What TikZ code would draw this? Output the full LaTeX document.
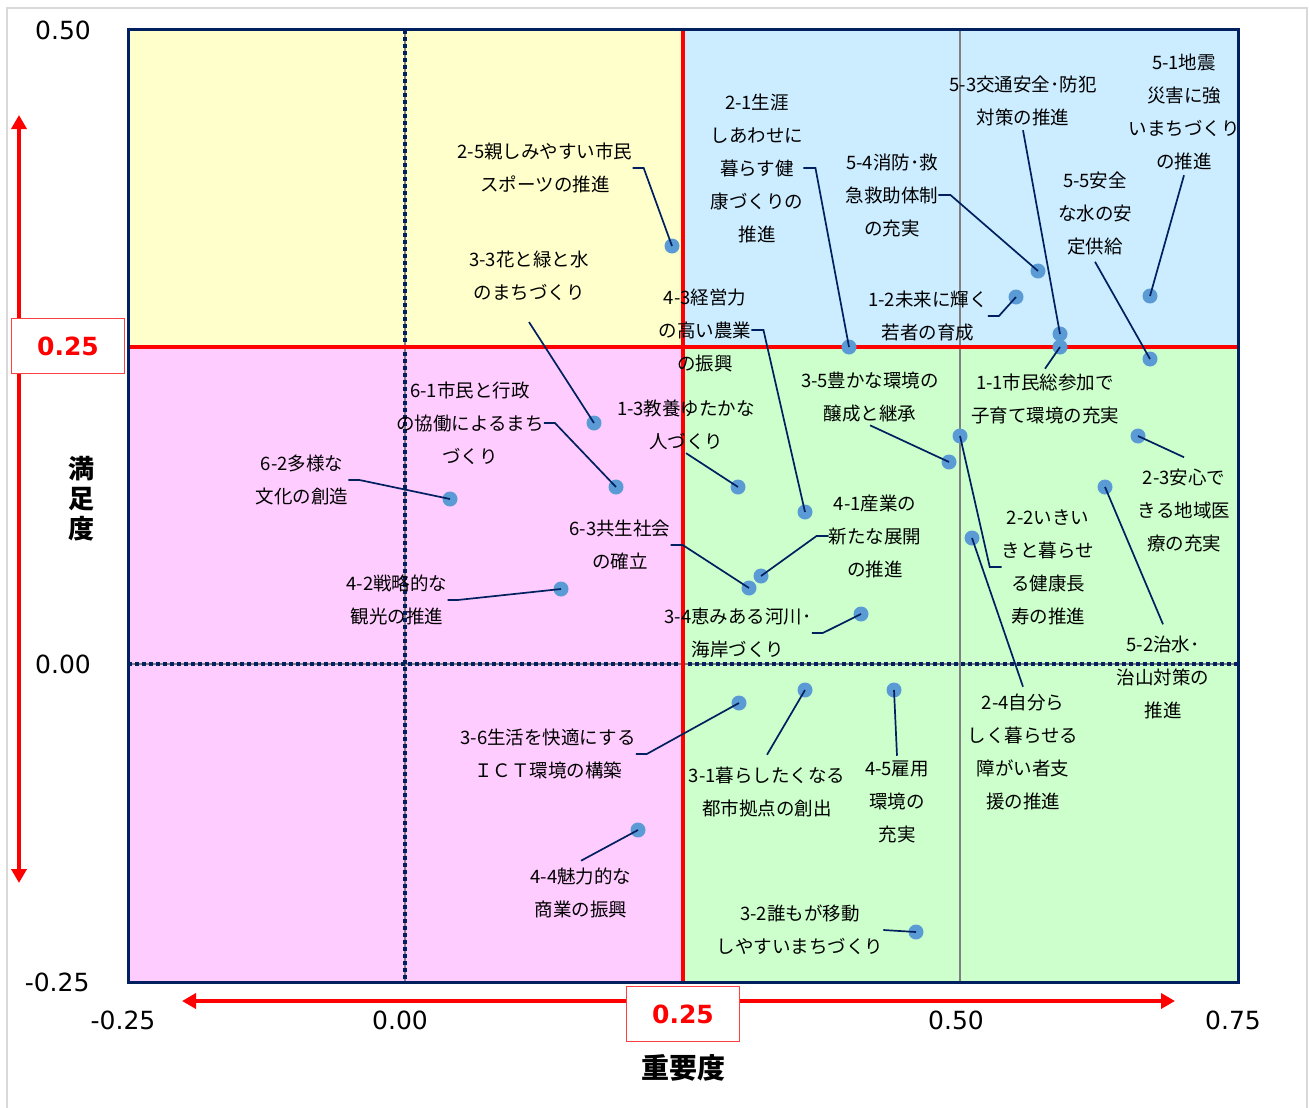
\documentclass[tikz,border=0pt]{standalone}
\usepackage{fontspec}
\setmainfont{Noto Sans CJK JP}
\newfontfamily\numfont{DejaVu Sans}
\usetikzlibrary{arrows.meta}
\definecolor{navy}{HTML}{002060}
\definecolor{dotblue}{HTML}{5B9BD5}
\definecolor{qyellow}{HTML}{FFFFCC}
\definecolor{qblue}{HTML}{CCECFF}
\definecolor{qpink}{HTML}{FFCCFF}
\definecolor{qgreen}{HTML}{CCFFCC}
\tikzset{lbl/.style={align=center, inner sep=0pt, font=\fontsize{18.5}{33}\selectfont},
dot/.style={circle, fill=dotblue, minimum size=15pt, inner sep=0pt},
leader/.style={draw=navy, line width=1.7pt},
tick/.style={font=\numfont\fontsize{25}{25}\selectfont},
redbox/.style={draw=red!75, line width=1.6pt, fill=white, minimum width=113pt, minimum height=55pt,
  text=red, font=\numfont\bfseries\fontsize{25}{25}\selectfont},
redarrow/.style={red, line width=4pt, {Triangle[width=15pt,length=14pt]}-{Triangle[width=15pt,length=14pt]}},
%dotted zero lines
zeroline/.style={navy, line width=3.5pt, dash pattern=on 4pt off 3pt}}

\begin{document}
\begin{tikzpicture}[x=1pt,y=-1pt]
    \useasboundingbox (0,0) rectangle (1309,1108);
    \draw[black!15, line width=1.5pt] (7,1120) -- (7,8) -- (1307,8) -- (1307,1120);

    \fill[qyellow] (128,30) rectangle (683,347);
    \fill[qblue] (683,30) rectangle (1238,347);
    \fill[qpink] (128,347) rectangle (683,982);
    \fill[qgreen] (683,347) rectangle (1238,982);

    \draw[gray, line width=2pt] (960,30) -- (960,982);
    \draw[gray, line width=1.5pt] (405,30) -- (405,982) (128,664) -- (1238,664);
    \draw[zeroline] (405,30) -- (405,982);
    \draw[zeroline] (128,664) -- (1238,664);
    \draw[red, line width=4pt] (683,30) -- (683,982) (128,347) -- (1238,347);
    \draw[navy, line width=3pt] (128,30) rectangle (1238,982);

    % axes
    \coordinate (ytop) at (19,115);
    \coordinate (ybot) at (19,883);
    \coordinate (xleft) at (182,1001);
    \coordinate (xright) at (1175,1001);
    \draw[redarrow] (ytop) -- (ybot);
    \draw[redarrow] (xleft) -- (xright);
    \node[redbox] (ybox) at (68,346) {0.25};
    \node[redbox] (xbox) at (683,1014) {0.25};
    \node[align=center, font=\bfseries\fontsize{26}{30}\selectfont] (ytitle) at (81,499) {満\\足\\度};
    \node[font=\bfseries\fontsize{28}{28}\selectfont] (xtitle) at (683,1068) {重要度};

    \node[tick] (y50) at (63,30) {0.50};
    \node[tick] (y00) at (63,664) {0.00};
    \node[tick, anchor=east] (y25m) at (93,982) {-0.25};
    \node[tick] (x25m) at (123,1020) {-0.25};
    \node[tick] (x00) at (400,1020) {0.00};
    \node[tick] (x50) at (956,1020) {0.50};
    \node[tick] (x75) at (1233,1020) {0.75};

    \node[lbl] (l25) at (545,168) {2-5親しみやすい市民\\スポーツの推進};
    \node[lbl] (l21) at (757,168) {2-1生涯\\しあわせに\\暮らす健\\康づくりの\\推進};
    \node[lbl] (l54) at (892,195) {5-4消防･救\\急救助体制\\の充実};
    \node[lbl] (l53) at (1023,101) {5-3交通安全･防犯\\対策の推進};
    \node[lbl] (l51) at (1184,112) {5-1地震\\災害に強\\いまちづくり\\の推進};
    \node[lbl] (l55) at (1095,213) {5-5安全\\な水の安\\定供給};
    \node[lbl] (l12) at (928,316) {1-2未来に輝く\\若者の育成};
    \node[lbl] (l11) at (1045,399) {1-1市民総参加で\\子育て環境の充実};
    \node[lbl] (l43) at (705,330) {4-3経営力\\の高い農業\\の振興};
    \node[lbl] (l35) at (870,397) {3-5豊かな環境の\\醸成と継承};
    \node[lbl] (l22) at (1048,567) {2-2いきい\\きと暮らせ\\る健康長\\寿の推進};
    \node[lbl] (l23) at (1184,510) {2-3安心で\\きる地域医\\療の充実};
    \node[lbl] (l52) at (1163,677) {5-2治水･\\治山対策の\\推進};
    \node[lbl] (l24) at (1023,752) {2-4自分ら\\しく暮らせる\\障がい者支\\援の推進};
    \node[lbl] (l13) at (686,425) {1-3教養ゆたかな\\人づくり};
    \node[lbl] (l61) at (470,423) {6-1市民と行政\\の協働によるまち\\づくり};
    \node[lbl] (l33) at (529,276) {3-3花と緑と水\\のまちづくり};
    \node[lbl] (l62) at (302,480) {6-2多様な\\文化の創造};
    \node[lbl] (l63) at (620,545) {6-3共生社会\\の確立};
    \node[lbl] (l41) at (875,536) {4-1産業の\\新たな展開\\の推進};
    \node[lbl] (l42) at (397,600) {4-2戦略的な\\観光の推進};
    \node[lbl] (l34) at (738,633) {3-4恵みある河川･\\海岸づくり};
    \node[lbl] (l36) at (548,754) {3-6生活を快適にする\\ＩＣＴ環境の構築};
    \node[lbl] (l31) at (767,792) {3-1暮らしたくなる\\都市拠点の創出};
    \node[lbl] (l45) at (897,802) {4-5雇用\\環境の\\充実};
    \node[lbl] (l44) at (581,893) {4-4魅力的な\\商業の振興};
    \node[lbl] (l32) at (800,930) {3-2誰もが移動\\しやすいまちづくり};

    \foreach \n/\x/\y in {25/672/246, 21/849/347, 54/1038/271, 53/1060/334, 51/1150/296,
      55/1150/359, 12/1016/297, 11/1060/347, 43/805/512, 35/949/462, 22/960/436,
      23/1138/436, 52/1105/487, 24/972/538, 13/738/487, 61/616/487, 33/594/423,
      62/450/499, 63/749/588, 41/761/576, 42/561/589, 34/861/614, 36/739/703,
      31/805/690, 45/894/690, 44/638/830, 32/916/932}
    \node[dot] (p\n) at (\x,\y) {};

    \foreach \n/\d in {25/11, 21/12, 54/12, 12/11, 43/12, 61/11, 62/11, 63/12, 42/10, 34/11, 36/11}
    \draw[leader] (l\n.east) -- ++(\d,0) -- (p\n.center);
    \foreach \n in {22, 41}
    \draw[leader] (l\n.west) -- ++(-12,0) -- (p\n.center);
    \foreach \n/\s in {53/-4, 51/-5, 55/-7, 35/-3, 13/-3, 33/-21}
    \draw[leader] ([yshift=\s pt]l\n.south) -- (p\n.center);
    \foreach \n/\s in {11/5, 23/11, 52/11, 24/7, 31/12, 45/5, 44/7}
    \draw[leader] ([yshift=\s pt]l\n.north) -- (p\n.center);
    \draw[leader] (l32.east) -- (p32.center);

  \end{tikzpicture}
\end{document}
